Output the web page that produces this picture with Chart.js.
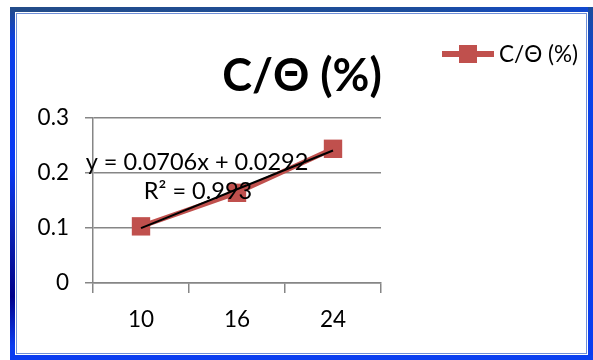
<!DOCTYPE html>
<html>
<head>
<meta charset="utf-8">
<script src="https://cdn.jsdelivr.net/npm/chart.js@4"></script>
<style>
  html, body { margin: 0; padding: 0; background: #fff; }
  #stage { position: relative; width: 593px; height: 360px; overflow: hidden; background: #fff; }
  .band { position: absolute; }
  #bandTop { left: 10px; top: 7px; width: 583px; height: 5px;
    background: linear-gradient(to right, #234c88, #1c4d9c 70%, #1148d0); }
  #bandLeft { left: 10px; top: 7px; width: 5px; height: 353px;
    background: linear-gradient(to bottom, #234c88 0%, #0a3ee8 10%, #0638f5 45%, #0a24b8 62%, #00008a 82%, #0a3cf0 96%); }
  #bandRight { left: 588px; top: 7px; width: 5px; height: 353px;
    background: linear-gradient(to bottom, #1c4d9c 0%, #0a42e8 20%, #0a3cf0 100%); }
  #bandBottom { left: 10px; top: 355px; width: 583px; height: 5px;
    background: linear-gradient(to right, #0a3cf0, #0a40f0); }
  #innerLine { position: absolute; left: 16px; top: 13px; width: 569px; height: 339px;
    border: 1px solid #6f8fd8; }
  #chart { position: absolute; left: 0; top: 0; }
</style>
</head>
<body>
<div id="stage">
  <div class="band" id="bandTop"></div>
  <div class="band" id="bandLeft"></div>
  <div class="band" id="bandRight"></div>
  <div class="band" id="bandBottom"></div>
  <div id="innerLine"></div>
  <canvas id="chart" width="593" height="360"></canvas>
</div>
<script>
// Chart content
const chartTitle = 'C/Θ (%)';
const seriesName = 'C/Θ (%)';
const categories = ['10', '16', '24'];
const ratioValues = [0.103, 0.164, 0.244];
const yTickValues = [0, 0.1, 0.2, 0.3];

// Linear trendline as printed on the chart
const trendSlope = 0.0706;
const trendIntercept = 0.0292;
const trendR2 = 0.993;
const trendValues = categories.map((c, i) => trendSlope * (i + 1) + trendIntercept);

const seriesColor = '#C0504D';
const gridColor = '#868686';
const FONT = 'Lato, "DejaVu Sans", sans-serif';

// Title, legend and trendline equation
const overlay = {
  id: 'overlay',
  afterDraw(chart) {
    const ctx = chart.ctx;
    ctx.save();
    ctx.fillStyle = '#000';
    ctx.textAlign = 'center';
    ctx.textBaseline = 'middle';
    ctx.font = 'bold 45px ' + FONT;
    ctx.fillText(chartTitle, 302, 76);

    // legend entry: line with square marker
    ctx.strokeStyle = seriesColor;
    ctx.lineWidth = 6;
    ctx.beginPath();
    ctx.moveTo(442, 54);
    ctx.lineTo(494, 54);
    ctx.stroke();
    ctx.fillStyle = seriesColor;
    ctx.fillRect(459, 45, 18, 18);
    ctx.fillStyle = '#000';
    ctx.textAlign = 'left';
    ctx.font = '22.5px ' + FONT;
    ctx.fillText(seriesName, 499, 55);

    // trendline equation
    ctx.textAlign = 'center';
    ctx.textBaseline = 'alphabetic';
    ctx.font = '23.5px ' + FONT;
    ctx.fillText('y = ' + trendSlope + 'x + ' + trendIntercept, 197, 170);
    ctx.fillText('R² = ' + trendR2, 198, 199);
    ctx.restore();
  }
};

new Chart(document.getElementById('chart'), {
  type: 'line',
  data: {
    labels: categories,
    datasets: [
      {
        label: 'Linear',
        data: trendValues,
        borderColor: '#000',
        borderWidth: 2,
        pointRadius: 0,
        fill: false,
        order: 0
      },
      {
        label: seriesName,
        data: ratioValues,
        borderColor: seriesColor,
        backgroundColor: seriesColor,
        borderWidth: 5,
        pointStyle: 'rect',
        pointRadius: 13,
        pointBorderWidth: 0,
        fill: false,
        order: 1
      }
    ]
  },
  options: {
    responsive: false,
    animation: false,
    devicePixelRatio: 1,
    layout: { padding: { left: 0, right: 212, top: 118, bottom: 0 } },
    plugins: {
      legend: { display: false },
      title: { display: false },
      tooltip: { enabled: false }
    },
    scales: {
      x: {
        offset: true,
        grid: {
          offset: true,
          drawOnChartArea: false,
          color: gridColor,
          lineWidth: 1.5,
          tickLength: 10
        },
        border: { color: gridColor, width: 1.5 },
        ticks: { color: '#000', font: { family: FONT, size: 22.5 }, padding: 13 },
        afterFit(scale) { scale.height = 77; }
      },
      y: {
        min: 0,
        max: 0.3,
        afterBuildTicks(scale) { scale.ticks = yTickValues.map(v => ({ value: v })); },
        grid: { color: gridColor, lineWidth: 1.5, tickLength: 8 },
        border: { color: gridColor, width: 1.5 },
        ticks: {
          color: '#000',
          font: { family: FONT, size: 22.5 },
          padding: 16,
          callback: v => String(Math.round(v * 10) / 10)
        },
        afterFit(scale) { scale.width = 93; }
      }
    }
  },
  plugins: [overlay]
});
</script>
</body>
</html>
